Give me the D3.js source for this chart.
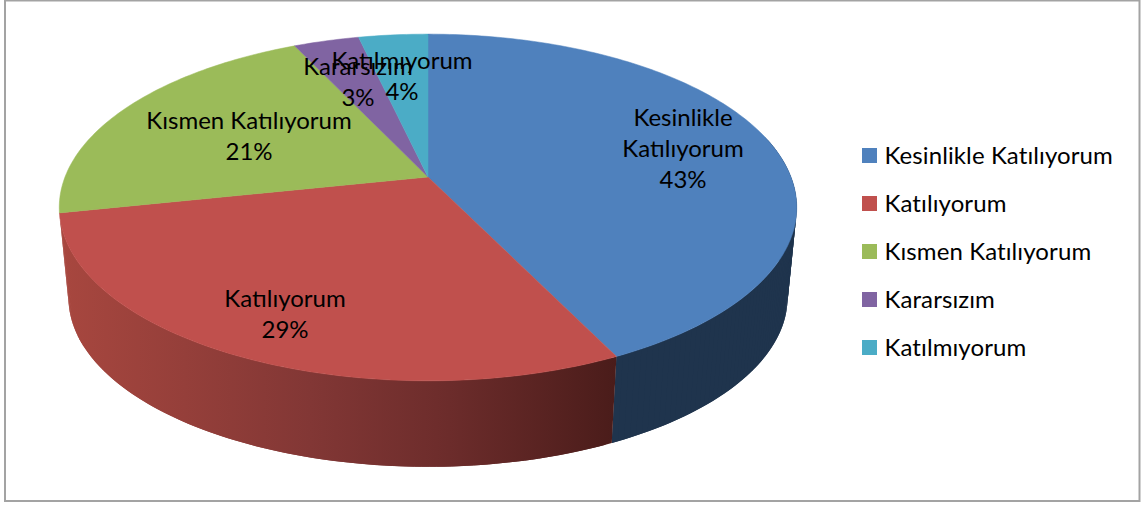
<!DOCTYPE html>
<html>
<head>
<meta charset="utf-8">
<script src="https://cdnjs.cloudflare.com/ajax/libs/d3/7.8.5/d3.min.js"></script>
<style>
  html, body { margin: 0; padding: 0; background: #fff; }
  text { font-family: Lato, "Open Sans", sans-serif; fill: #000; }
</style>
</head>
<body>
<div id="graph"></div>
<script>
var categories = ["Kesinlikle Katılıyorum", "Katılıyorum", "Kısmen Katılıyorum", "Kararsızım", "Katılmıyorum"];
var values = [42.8, 28.9, 21.3, 3.4, 3.6];
var colors = ["#4F81BD", "#C0504D", "#9BBB59", "#8064A2", "#4BACC6"];
var labelLines = [["Kesinlikle", "Katılıyorum"], ["Katılıyorum"], ["Kısmen Katılıyorum"], ["Kararsızım"], ["Katılmıyorum"]];
var labelPos = [[683, 126], [285, 307], [249, 129], [358, 75], [402, 69]];

var width = 1142, height = 505;
var svg = d3.select("#graph").append("svg").attr("width", width).attr("height", height).style("display", "block");
var defs = svg.append("defs");
var borderLayer = svg.append("g").classed("borderLayer", true);
var wallLayer = svg.append("g").classed("wallLayer", true);
var topLayer = svg.append("g").classed("topLayer", true);
var labelLayer = svg.append("g").classed("labelLayer", true);
var legendLayer = svg.append("g").classed("legendLayer", true);

// perspective of the pie plate: things at the back get smaller
var persp = 0.1758;
var xScale = d3.scaleLinear().domain([-1, 1]).range([65, 791]);
var yScale = d3.scaleLinear().domain([-1, 1]).range([345, 9]);

// bottom rim is the top rim scaled down a little and pushed down
var rimScale = 0.975, rimShift = 95.5;
var cx = xScale(0);

var pie = d3.pie().sort(null).startAngle(0).endAngle(2 * Math.PI);
var arcs = pie(values);
var line = d3.line();

function project(theta) {
  var u = Math.sin(theta), v = Math.cos(theta);
  var w = 1 + persp * v;
  return [xScale(u / w), yScale(v / w)];
}

function lower(p) {
  return [cx + rimScale * (p[0] - cx), rimScale * p[1] + rimShift];
}

function angleSteps(a0, a1) {
  var n = Math.ceil((a1 - a0) / (Math.PI / 180));
  return d3.range(n + 1).map(function(i) { return a0 + (a1 - a0) * i / n; });
}

function renderBorder() {
  borderLayer.append("rect")
    .attr("x", 5).attr("y", 0.5)
    .attr("width", 1134.5).attr("height", 500.5)
    .attr("fill", "#fff")
    .attr("stroke", "#A3A3A3")
    .attr("stroke-width", 2);
}

function renderWalls() {
  var grad = defs.append("linearGradient")
    .attr("id", "redWall")
    .attr("gradientUnits", "userSpaceOnUse")
    .attr("x1", 59).attr("x2", 617).attr("y1", 0).attr("y2", 0);
  grad.append("stop").attr("offset", "0").attr("stop-color", "#A8473F");
  grad.append("stop").attr("offset", "0.45").attr("stop-color", "#823735");
  grad.append("stop").attr("offset", "0.7").attr("stop-color", "#6C2C2B");
  grad.append("stop").attr("offset", "1").attr("stop-color", "#4A1C1A");

  // only blue (from its rightmost point on) and red can be seen from the front
  var walls = [
    { a0: Math.PI * 0.42, a1: arcs[0].endAngle, fill: "#1F344D" },
    { a0: arcs[1].startAngle, a1: arcs[1].endAngle, fill: "url(#redWall)" }
  ];

  walls.forEach(function(w) {
    var steps = angleSteps(w.a0, w.a1);
    // each quad spans two steps so the seams overlap
    var quads = d3.range(steps.length - 1).map(function(i) {
      var end = steps[Math.min(i + 2, steps.length - 1)];
      var a = project(steps[i]), b = project(end);
      return [a, b, lower(b), lower(a)];
    });
    wallLayer.append("g").selectAll("path")
      .data(quads)
      .enter()
      .append("path")
      .attr("d", function(d) { return line(d) + "Z"; })
      .attr("fill", w.fill);
  });
}

function renderTop() {
  topLayer.selectAll(".slice")
    .data(arcs)
    .enter()
    .append("path")
    .classed("slice", true)
    .attr("d", function(d) {
      var pts = angleSteps(d.startAngle, d.endAngle).map(project);
      pts.push([xScale(0), yScale(0)]);
      return line(pts) + "Z";
    })
    .attr("fill", function(d, i) { return colors[i]; })
    .attr("stroke", function(d, i) { return colors[i]; })
    .attr("stroke-width", 0.5);
}

function renderLabels() {
  var fmt = d3.format(".0f");
  var rowHeight = 31;
  var label = labelLayer.selectAll(".label")
    .data(arcs)
    .enter()
    .append("text")
    .classed("label", true)
    .attr("text-anchor", "middle")
    .attr("font-size", 24)
    .attr("transform", function(d, i) { return "translate(" + labelPos[i] + ")"; });

  label.each(function(d, i) {
    var rows = labelLines[i].concat(fmt(d.value) + "%");
    d3.select(this).selectAll("tspan")
      .data(rows)
      .enter()
      .append("tspan")
      .attr("x", 0)
      .attr("y", function(r, j) { return j * rowHeight; })
      .text(function(r) { return r; });
  });
}

function renderLegend() {
  var yLegend = d3.scalePoint().domain(categories).range([148, 340]);
  var item = legendLayer.selectAll(".item")
    .data(categories)
    .enter()
    .append("g")
    .classed("item", true)
    .attr("transform", function(d) { return "translate(" + [862, yLegend(d)] + ")"; });

  item.append("rect")
    .attr("width", 15)
    .attr("height", 15)
    .attr("fill", function(d, i) { return colors[i]; });

  item.append("text")
    .attr("x", 22.5)
    .attr("y", 16)
    .attr("font-size", 24)
    .attr("letter-spacing", 0.1)
    .text(function(d) { return d; });
}

renderBorder();
renderWalls();
renderTop();
renderLabels();
renderLegend();
</script>
</body>
</html>
